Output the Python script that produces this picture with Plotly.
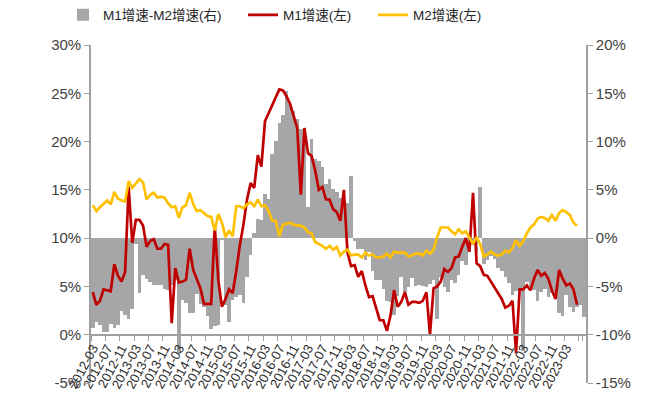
import plotly.graph_objects as go

# Monthly categories on the shared x axis (2012-03 .. 2023-08)
months = [f"{y}-{m:02d}" for y in range(2012, 2024) for m in range(1, 13)]
months = months[months.index("2012-03"):months.index("2023-08") + 1]

# M1 and M2 year-on-year growth, %, 2012-03 .. 2023-06 (left axis)
m1 = [4.4, 3.1, 3.5, 4.7, 4.6, 4.5, 7.3, 6.1, 5.5, 6.5,
      15.3, 9.5, 11.9, 11.9, 11.3, 9.1, 9.7, 9.9, 8.9, 8.9, 9.4, 9.3,
      1.2, 6.9, 5.4, 5.5, 5.7, 8.9, 6.7, 5.7, 4.8, 3.2, 3.2, 3.2,
      11.2, 5.6, 2.9, 3.7, 4.7, 4.3, 6.6, 9.3, 11.4, 14.0, 15.7, 15.2,
      18.6, 17.4, 22.1, 22.9, 23.7, 24.6, 25.4, 25.3, 24.7, 23.9, 22.7, 21.4,
      14.5, 21.4, 18.8, 18.5, 17.0, 15.0, 15.3, 14.0, 14.0, 13.0, 12.7, 11.8,
      15.0, 8.5, 7.1, 7.2, 6.0, 6.6, 5.1, 3.9, 4.0, 2.7, 1.5, 1.5,
      0.4, 2.0, 4.6, 2.9, 3.4, 4.4, 3.1, 3.4, 3.4, 3.3, 3.5, 4.4,
      0.0, 4.8, 5.0, 5.5, 6.8, 6.5, 6.9, 8.0, 8.1, 9.1, 10.0, 8.6,
      14.7, 7.4, 7.1, 6.2, 6.1, 5.5, 4.9, 4.2, 3.7, 2.8, 3.0, 3.5,
      -1.9, 4.7, 4.7, 5.1, 4.6, 5.8, 6.7, 6.1, 6.4, 5.8, 4.6, 3.7,
      6.7, 5.8, 5.1, 5.3, 4.7, 3.1]
m2 = [13.4, 12.8, 13.2, 13.6, 13.9, 13.5, 14.8, 14.1, 13.9, 13.8,
      15.9, 15.2, 15.7, 16.1, 15.8, 14.0, 14.5, 14.7, 14.2, 14.3, 14.2, 13.6,
      13.2, 13.3, 12.1, 13.2, 13.4, 14.7, 13.5, 12.8, 12.9, 12.6, 12.3, 12.2,
      10.8, 12.5, 11.6, 10.1, 10.8, 10.2, 13.3, 13.3, 13.1, 13.5, 13.7, 13.3,
      14.0, 13.3, 13.4, 12.8, 11.8, 11.8, 10.2, 11.4, 11.5, 11.6, 11.4, 11.3,
      11.3, 11.1, 10.6, 10.5, 9.6, 9.4, 9.2, 8.9, 9.2, 8.8, 9.1, 8.2,
      8.6, 8.8, 8.2, 8.3, 8.3, 8.0, 8.5, 8.2, 8.3, 8.0, 8.0, 8.1,
      8.4, 8.0, 8.6, 8.5, 8.5, 8.5, 8.1, 8.2, 8.4, 8.4, 8.2, 8.7,
      8.4, 8.8, 10.1, 11.1, 11.1, 11.1, 10.7, 10.4, 10.9, 10.5, 10.7, 10.1,
      9.4, 10.1, 9.4, 8.1, 8.3, 8.6, 8.3, 8.2, 8.3, 8.7, 8.5, 9.0,
      9.8, 9.2, 9.7, 10.5, 11.1, 11.4, 12.0, 12.2, 12.1, 11.8, 12.4, 11.8,
      12.6, 12.9, 12.7, 12.4, 11.6, 11.3]

# M1 minus M2 growth gap, percentage points, one bar per category (right axis)
spread = [-9.3, -8.7, -9.0, -9.7, -9.7, -8.9, -9.3, -9.0, -7.5, -8.0, -8.4, -7.3,
          -0.6, -5.7, -3.8, -4.2, -4.5, -4.9, -4.8, -4.8, -5.3, -5.4, -4.8, -4.3,
          -12.0, -6.4, -6.7, -7.7, -7.7, -5.8, -6.8, -7.1, -8.1, -9.4, -9.1, -9.0,
          -0.2, -6.9, -8.7, -6.4, -6.1, -5.9, -6.7, -4.0, -1.7, 0.5, 2.0, 1.9,
          4.6, 4.1, 8.7, 10.1, 11.9, 12.8, 15.2, 13.9, 13.2, 12.3, 11.3, 10.1,
          3.2, 10.3, 8.2, 8.0, 7.4, 5.6, 6.1, 5.1, 4.8, 4.2, 3.6, 3.6,
          6.4, -0.3, -1.1, -1.1, -2.3, -1.4, -3.4, -4.3, -4.3, -5.3, -6.5, -6.6,
          -8.0, -6.0, -4.0, -5.6, -5.1, -4.1, -5.0, -4.8, -5.0, -5.1, -4.7, -4.3,
          -8.4, -4.0, -5.1, -5.6, -4.3, -4.6, -3.8, -2.4, -2.8, -1.4, -0.7, -1.5,
          5.3, -2.7, -2.3, -1.9, -2.2, -3.1, -3.4, -4.0, -4.6, -5.9, -5.5, -5.5,
          -11.7, -4.5, -5.0, -5.4, -6.5, -5.6, -5.3, -6.1, -5.7, -6.0, -7.8, -8.1,
          -5.9, -7.1, -7.6, -7.1, -6.9, -8.2]

# Axis tick labels
left_ticks = [-5, 0, 5, 10, 15, 20, 25, 30]
right_ticks = [-15, -10, -5, 0, 5, 10, 15, 20]
label_months = months[:months.index("2023-03") + 1:4]
tick_months = months[::4]
tick_text = [m if m in label_months else "" for m in tick_months]

FONT = "Liberation Sans, Arial, Noto Sans CJK SC, sans-serif"
AXIS_GREY = "#A0A0A0"
TEXT_GREY = "#404040"
W, H = 653, 407

fig = go.Figure()
fig.add_trace(go.Bar(
    x=months, y=spread, name="M1增速-M2增速(右)",
    marker=dict(color="#A6A6A8", line=dict(width=0)),
    yaxis="y", legend="legend",
))
fig.add_trace(go.Scatter(
    x=months[:len(m1)], y=m1, name="M1增速(左)", mode="lines",
    line=dict(color="#C00000", width=2.7), yaxis="y2", legend="legend2",
))
fig.add_trace(go.Scatter(
    x=months[:len(m2)], y=m2, name="M2增速(左)", mode="lines",
    line=dict(color="#FFC000", width=2.7), yaxis="y2", legend="legend3",
))

# One legend box per series so each entry sits at its own spot in the header row
legend_style = dict(
    orientation="h", xref="container", yref="container",
    xanchor="left", yanchor="middle", y=1 - 15 / H,
    font=dict(size=13.5, color="#262626"), bgcolor="rgba(0,0,0,0)",
)

fig.update_layout(
    width=W, height=H,
    margin=dict(l=91, r=67, t=45, b=24, autoexpand=False),
    plot_bgcolor="white", paper_bgcolor="white",
    font=dict(family=FONT, color=TEXT_GREY),
    bargap=0,
    showlegend=True,
    legend=dict(legend_style, x=63 / W),
    legend2=dict(legend_style, x=243 / W),
    legend3=dict(legend_style, x=373 / W),
    xaxis=dict(
        type="category", categoryorder="array", categoryarray=months,
        range=[-0.5, len(months) - 0.5],
        anchor="free", position=1 / 7,
        tickmode="array", tickvals=tick_months, ticktext=tick_text,
        tickson="boundaries", ticks="outside", ticklen=5,
        tickcolor=AXIS_GREY, tickwidth=1.3,
        tickangle=-62, tickfont=dict(size=13, color="#2b2b2b"),
        showline=True, linecolor=AXIS_GREY, linewidth=1.6,
        showgrid=False, zeroline=False,
    ),
    yaxis=dict(
        side="right", anchor="x", range=[-15, 20],
        tickmode="array", tickvals=right_ticks,
        ticktext=[f"{v}%" for v in right_ticks],
        ticks="outside", ticklen=5, tickcolor=AXIS_GREY, tickwidth=1.3,
        tickfont=dict(size=15, color=TEXT_GREY),
        showline=True, linecolor=AXIS_GREY, linewidth=1.6,
        showgrid=False, zeroline=False,
    ),
    yaxis2=dict(
        side="left", overlaying="y", anchor="x", range=[-5, 30],
        tickmode="array", tickvals=left_ticks,
        ticktext=[f"{v}%" for v in left_ticks],
        ticks="outside", ticklen=5, tickcolor=AXIS_GREY, tickwidth=1.3,
        tickfont=dict(size=15, color=TEXT_GREY),
        showline=True, linecolor=AXIS_GREY, linewidth=1.6,
        showgrid=False, zeroline=False,
    ),
)

fig.write_html("out.html")
